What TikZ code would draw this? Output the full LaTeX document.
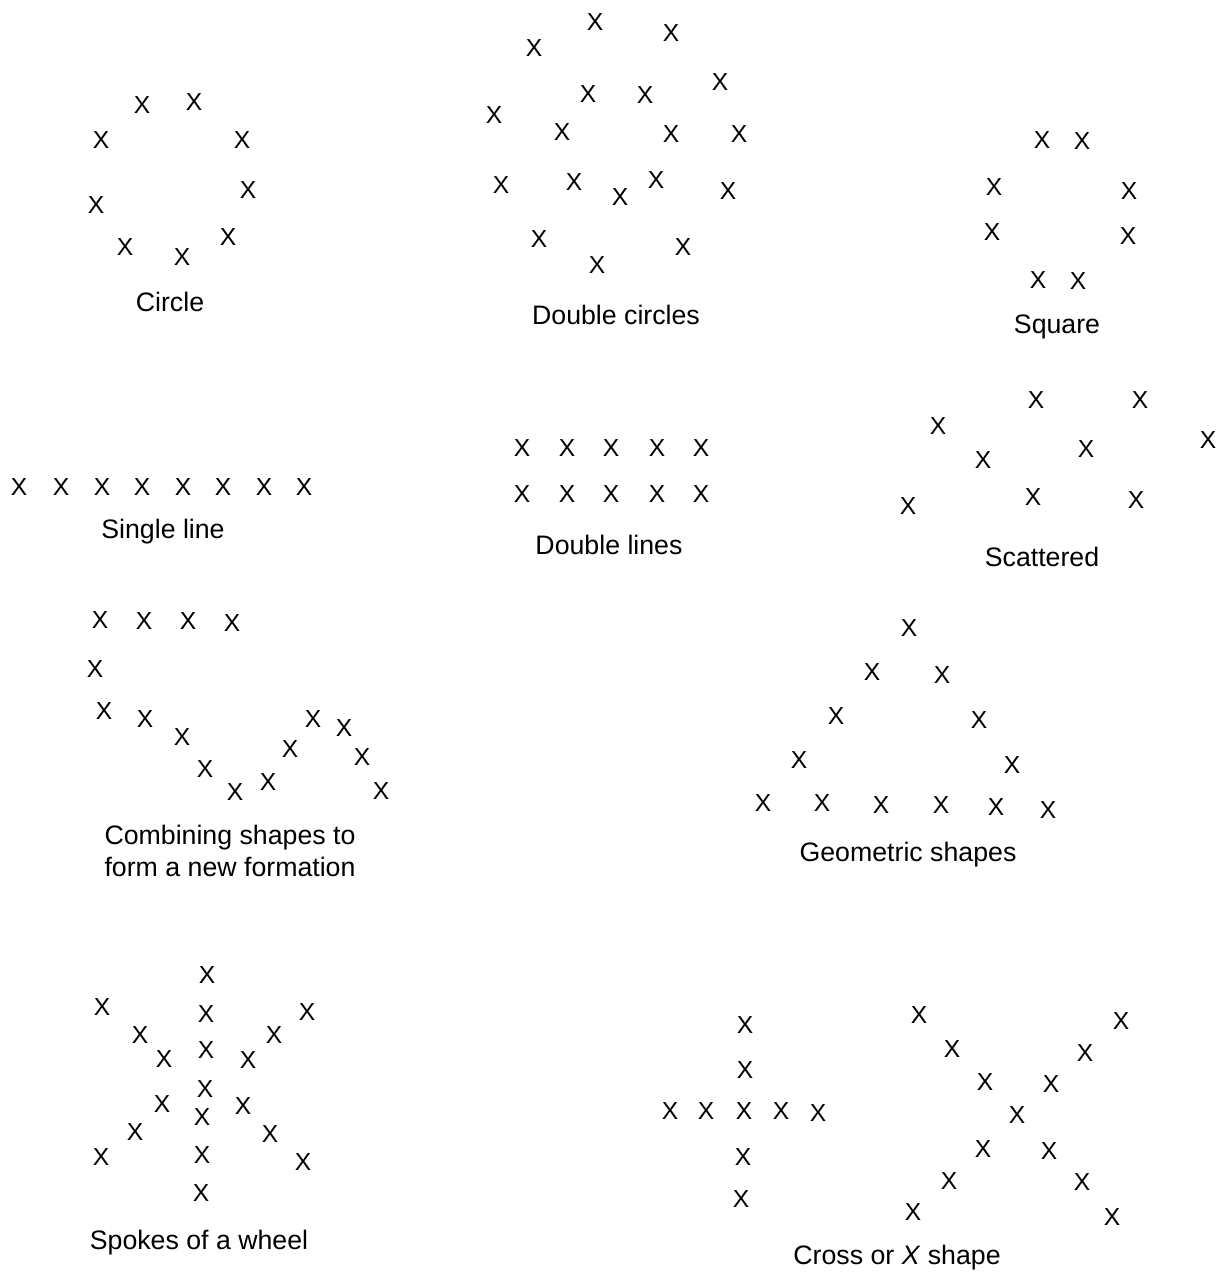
\documentclass[tikz,border=0pt]{standalone}
\usepackage{fontspec}
\setmainfont{Liberation Sans}
\begin{document}
\begin{tikzpicture}[x=0.025cm,y=-0.025cm,
  xm/.style={inner sep=0pt,font=\fontsize{17.5}{20}\selectfont},
  lab/.style={inner sep=0pt,align=center,font=\fontsize{19}{23}\selectfont}]
\useasboundingbox (0,0) rectangle (1220,1275);
% Circle
\foreach \x/\y [count=\i] in {142/105,194/102,101/140,242/140,248/190,96/205,125/247,182/257,228/237}
  \node[xm] (circ\i) at (\x,\y) {X};
\node[lab] (lcirc) at (170,302) {Circle};
% Double circles
\foreach \x/\y [count=\i] in {595/22,671/33,534/48,720/82,588/94,645/95,494/115,562/132,671/134,739/134,501/185,574/182,620/197,656/180,728/191,539/239,597/265,683/247}
  \node[xm] (dc\i) at (\x,\y) {X};
\node[lab] (ldc) at (616,315) {Double circles};
% Square
\foreach \x/\y [count=\i] in {1042/140,1082/141,994/187,1129/191,992/232,1128/236,1038/280,1078/281}
  \node[xm] (sq\i) at (\x,\y) {X};
\node[lab] (lsq) at (1057,327) {Square};
% Single line
\foreach \x [count=\i] in {19,61,102,142,183,223,264,304}
  \node[xm] (sl\i) at (\x,487) {X};
\node[lab] (lsl) at (163,532) {Single line};
% Double lines
\foreach \x [count=\i] in {522,567,611,657,701}{
  \node[xm] (dla\i) at (\x,448) {X};
  \node[xm] (dlb\i) at (\x,494) {X};}
\node[lab] (ldl) at (609,545) {Double lines};
% Scattered
\foreach \x/\y [count=\i] in {1036/400,1140/400,938/426,1208/440,983/460,1086/449,1033/497,1136/500,908/506}
  \node[xm] (sc\i) at (\x,\y) {X};
\node[lab] (lsc) at (1042,557) {Scattered};
% Combining shapes
\foreach \x/\y [count=\i] in {100/620,144/621,188/621,232/623,95/669,104/711,145/719,182/737,313/719,344/728,290/749,362/757,205/769,235/792,268/782,381/791}
  \node[xm] (cb\i) at (\x,\y) {X};
\node[lab] (lcb) at (230,851) {Combining shapes to\\form a new formation};
% Geometric shapes
\foreach \x/\y [count=\i] in {909/628,872/672,942/675,836/716,979/720,799/760,1012/765,763/803,822/803,881/805,941/805,996/807,1048/810}
  \node[xm] (gs\i) at (\x,\y) {X};
\node[lab] (lgs) at (908,855) {Geometric shapes};
% Spokes of a wheel
\foreach \x/\y [count=\i] in {207/975,102/1007,307/1012,140/1035,206/1014,274/1035,164/1059,206/1050,248/1060,162/1104,205/1089,243/1106,135/1132,202/1117,270/1134,101/1157,202/1155,303/1162,201/1193}
  \node[xm] (sw\i) at (\x,\y) {X};
\node[lab] (lsw) at (199,1243) {Spokes of a wheel};
% Cross
\foreach \x/\y [count=\i] in {745/1025,745/1070,670/1111,706/1111,744/1111,781/1111,818/1113,743/1157,741/1199}
  \node[xm] (cr\i) at (\x,\y) {X};
% X shape
\foreach \x/\y [count=\i] in {919/1015,1121/1021,952/1049,1085/1053,985/1082,1051/1084,1017/1115,983/1149,1049/1151,949/1181,1082/1182,913/1212,1112/1217}
  \node[xm] (xs\i) at (\x,\y) {X};
\node[lab] (lcr) at (897,1258) {Cross or \textit{X} shape};
\end{tikzpicture}
\end{document}
